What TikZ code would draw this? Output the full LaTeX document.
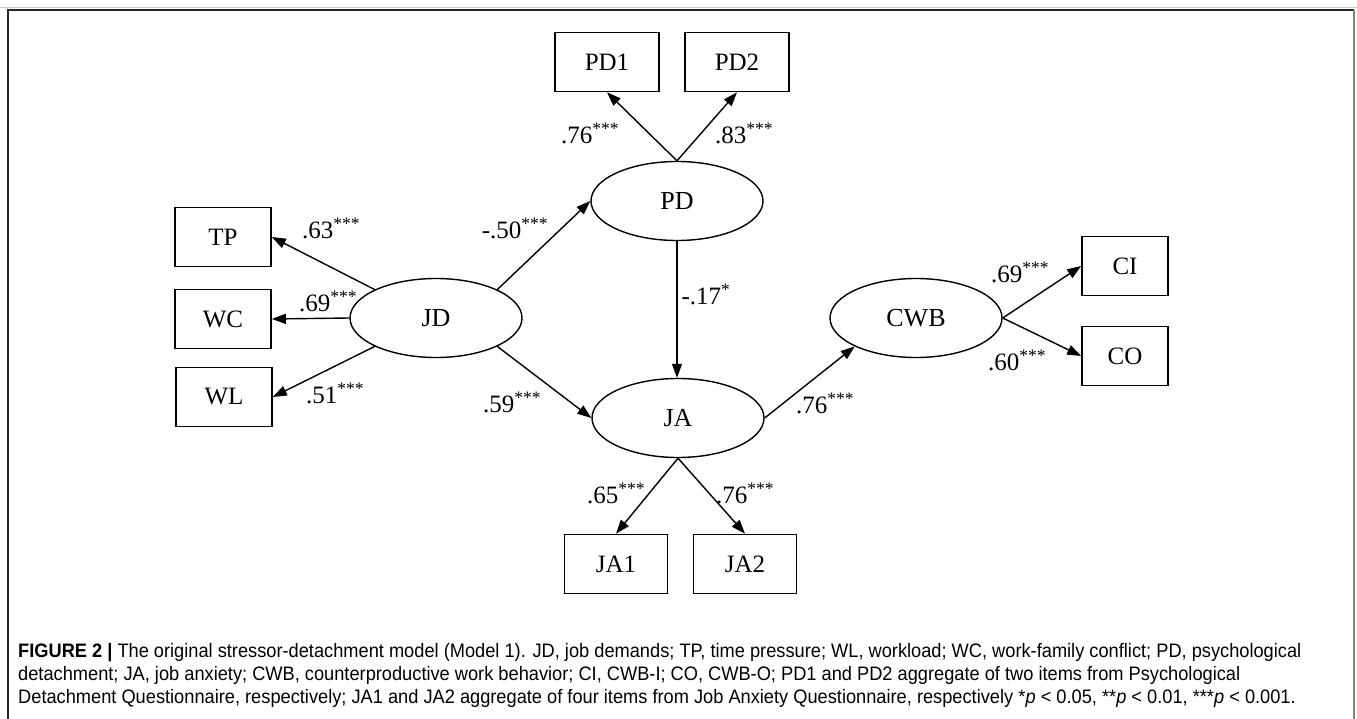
\documentclass[tikz,border=0pt]{standalone}
\usepackage{fontspec}
\setmainfont{Liberation Serif}
\newfontfamily\capfont[FakeStretch=0.935]{Liberation Sans}
\usetikzlibrary{arrows.meta,shapes.geometric}
\newcommand{\sig}[1]{\textsuperscript{#1}}
\begin{document}
\begin{tikzpicture}[x=1pt,y=-1pt,
  obs/.style={draw, line width=1.6pt, minimum width=96pt, minimum height=59pt, inner sep=0pt, font=\fontsize{25}{25}\selectfont},
  lat/.style={draw, ellipse, line width=1.4pt, minimum width=172pt, minimum height=79pt, inner sep=0pt, font=\fontsize{26}{26}\selectfont},
  path/.style={line width=1.4pt, -{Triangle[length=14pt,width=10pt]}},
  coef/.style={font=\fontsize{25}{25}\selectfont, inner sep=0pt},
  capline/.style={anchor=base west, inner sep=0pt, font=\capfont\fontsize{19.5}{23}\selectfont}]
\useasboundingbox (0,0) rectangle (1357,719);
% frame
\draw[black!20, line width=1pt] (0,7.5) -- (1357,7.5);
\draw[black!85, line width=1.3pt] (8,719) -- (8,10) -- (1354,10);
\draw[black!50, line width=2pt] (1354,10) -- (1354,719);
% latent variables
\node[lat] (jd) at (436,318) {JD};
\node[lat] (pd) at (677,201) {PD};
\node[lat] (ja) at (678,418) {JA};
\node[lat] (cwb) at (916,318) {CWB};
% indicators
\node[obs] (tp) at (223,237) {TP};
\node[obs] (wc) at (223,319) {WC};
\node[obs] (wl) at (224,397) {WL};
\node[obs, minimum width=104pt] (pd1) at (607,62) {PD1};
\node[obs, minimum width=104pt] (pd2) at (737,62) {PD2};
\node[obs, minimum width=103pt] (ja1) at (616,564) {JA1};
\node[obs, minimum width=103pt] (ja2) at (745,564) {JA2};
\node[obs, minimum width=86pt] (ci) at (1125,266) {CI};
\node[obs, minimum width=86pt] (co) at (1125,356) {CO};
% paths
\draw[path] (jd.north west) -- (tp.east);
\draw[path] (jd.west) -- (wc.east);
\draw[path] (jd.south west) -- (wl.east);
\draw[path] (jd.north east) -- (pd.west);
\draw[path] (jd.south east) -- (ja.west);
\draw[path] (pd.north) -- (pd1.south);
\draw[path] (pd.north) -- (pd2.south);
\draw[path] (pd.south) -- (pd.south |- ja.north);
\draw[path] (ja.east) -- (cwb.south west);
\draw[path] (ja.south) -- (ja1.north);
\draw[path] (ja.south) -- (ja2.north);
\draw[path] (cwb.east) -- (ci.west);
\draw[path] (cwb.east) -- (co.west);
% coefficients
\node[coef] (c-tp) at (331,228) {.63\sig{***}};
\node[coef] (c-wc) at (328,301) {.69\sig{***}};
\node[coef] (c-wl) at (335,393) {.51\sig{***}};
\node[coef] (c-pd) at (515,228) {-.50\sig{***}};
\node[coef] (c-ja) at (512,402) {.59\sig{***}};
\node[coef] (c-pd1) at (590,133) {.76\sig{***}};
\node[coef] (c-pd2) at (744,133) {.83\sig{***}};
\node[coef] (c-pdja) at (706,294) {-.17\sig{*}};
\node[coef] (c-cwb) at (825,403) {.76\sig{***}};
\node[coef] (c-ci) at (1020,272) {.69\sig{***}};
\node[coef] (c-co) at (1017,360) {.60\sig{***}};
\node[coef] (c-ja1) at (616,493) {.65\sig{***}};
\node[coef] (c-ja2) at (745,493) {.76\sig{***}};
% caption
\node[capline] (cap1) at (18,657) {{\bfseries FIGURE 2 |} The original stressor-detachment model (Model 1). JD, job demands; TP, time pressure; WL, workload; WC, work-family conflict; PD, psychological};
\node[capline] (cap2) at (18,680) {detachment; JA, job anxiety; CWB, counterproductive work behavior; CI, CWB-I; CO, CWB-O; PD1 and PD2 aggregate of two items from Psychological};
\node[capline] (cap3) at (18,703) {Detachment Questionnaire, respectively; JA1 and JA2 aggregate of four items from Job Anxiety Questionnaire, respectively *\textit{p} < 0.05, **\textit{p} < 0.01, ***\textit{p} < 0.001.};
\end{tikzpicture}
\end{document}
